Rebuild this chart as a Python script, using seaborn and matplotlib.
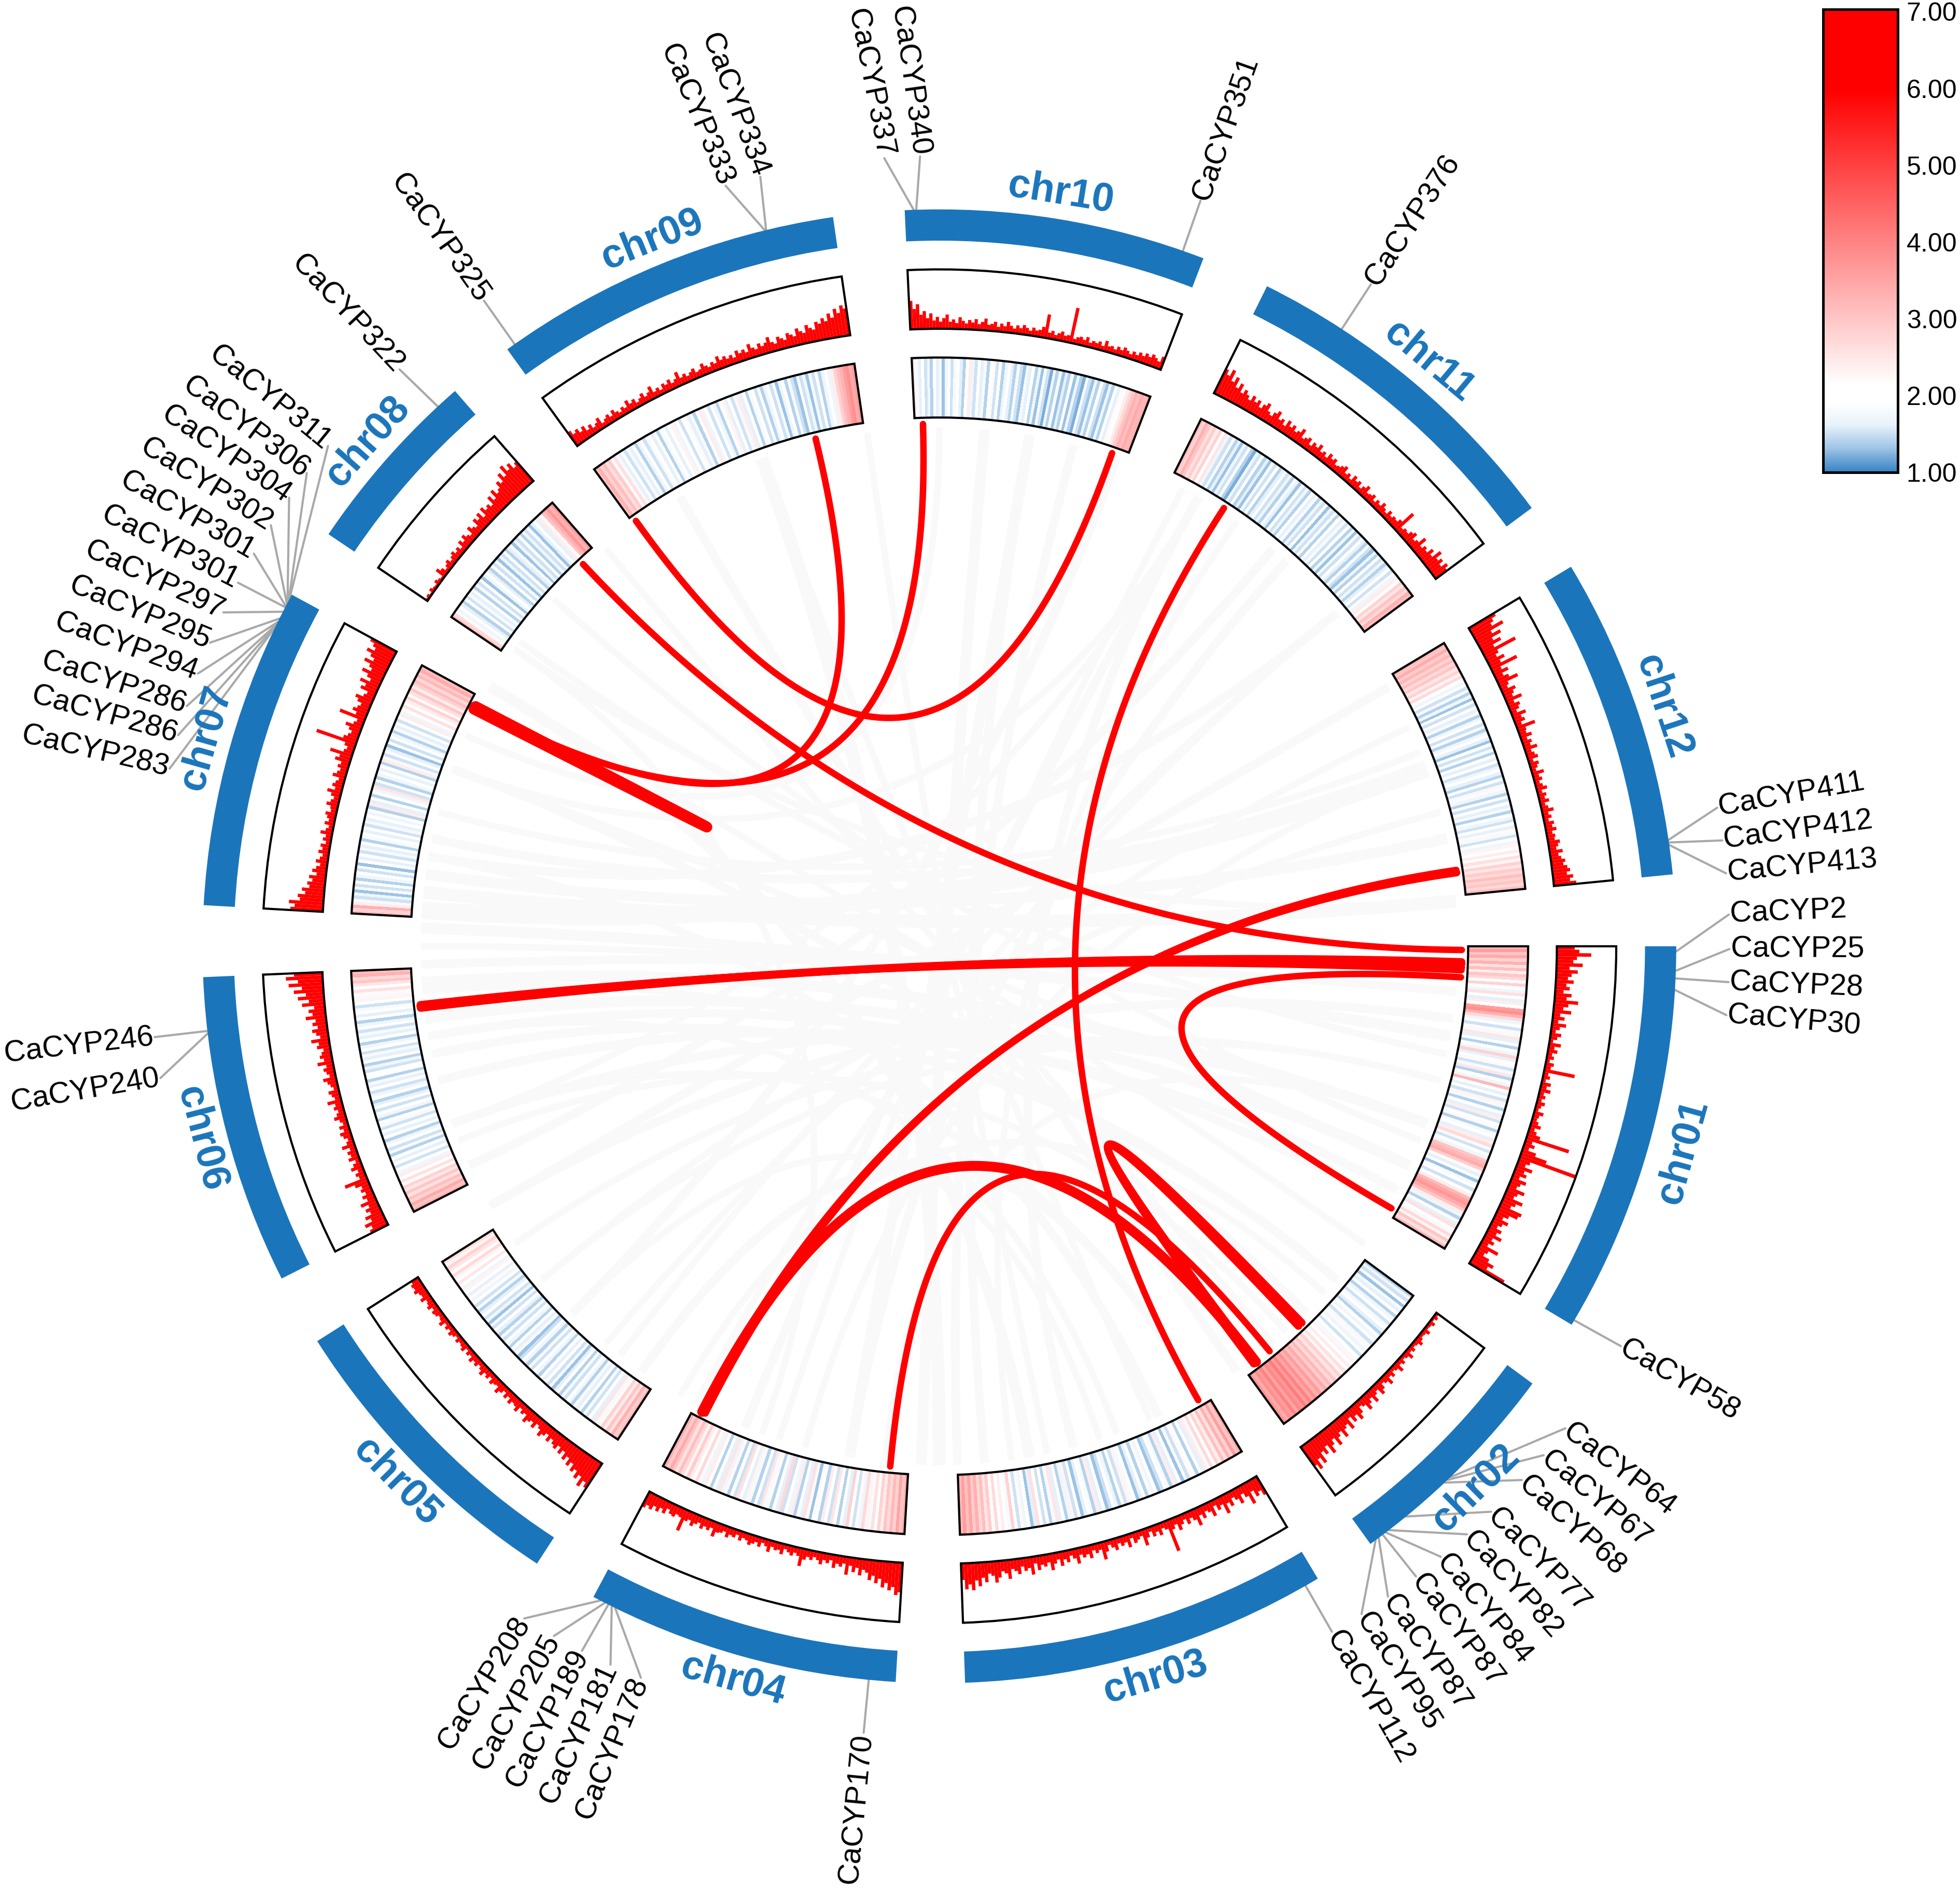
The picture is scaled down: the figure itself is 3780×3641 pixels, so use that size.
import numpy as np
import matplotlib
matplotlib.use("Agg")
import matplotlib.pyplot as plt
from matplotlib.colors import ListedColormap, Normalize
from matplotlib.cm import ScalarMappable
import seaborn as sns

sns.set_theme(style="white")
plt.rcParams['font.family'] = ['Liberation Sans', 'DejaVu Sans']

chroms = ['chr01','chr02','chr03','chr04','chr05','chr06','chr07','chr08','chr09','chr10','chr11','chr12']
starts = [0.0,36.4,59.1,93.4,123.1,153.2,183.2,214.0,234.1,267.3,296.4,329.0]
ends   = [30.9,54.2,88.0,118.0,147.6,177.6,208.5,228.9,261.7,291.0,323.5,354.4]
chrom_label_r = [617,610,610,610,610,610,610,610,610,610,610,610]

# peak height in each bin, percent of the track height
hist_chr01 = [30,38,58,34,28,44,22,36,26,20,30,18,24,14,28,20,40,24,16,30,12,20,10,24,14,8,18,12,6,20,10,16,8,12,6,14,10,52,8,12,6,16,10,18,8,12,7,14,9,6,16,10,8,12,18,9,14,22,75,12,18,10,24,45,100,20,14,28,16,22,12,26,18,14,30,20,16,34,24,18,40,36,22,14,26,18,12,22,16,28,14,20,12,34,18,14,26,38,30,66]
hist_chr02 = [5,8,4,10,6,5,12,7,6,9,14,8,6,11,7,16,9,6,12,8,18,10,7,14,9,20,12,8,16,22,10,14,24,12,18,26,14,10,20,28,16,24,12,30,18,22,34,20,26,38,22,30,42,24,36,28,46,34,50,40]
hist_chr03 = [34,24,30,18,38,22,14,28,18,12,24,16,32,14,20,10,26,16,12,22,14,30,18,12,20,10,16,24,12,18,55,14,10,20,12,18,8,16,28,10,14,18,8,22,12,16,10,20,14,8,18,30,12,16,10,22,14,18,12,26,16,10,20,14,24,12,18,28,14,20,16,24,12,30,18,22,14,26,20,16,32,22,18,28,36,24,20,34,26,40,30,46,36,44,28]
hist_chr04 = [50,55,42,48,36,44,30,38,26,34,22,18,28,16,24,14,30,12,18,14,22,10,16,12,20,14,10,16,12,18,30,14,10,16,12,8,18,12,14,10,20,12,8,16,10,14,18,12,10,16,8,14,12,18,10,14,16,25,12,18,14,20,12,16,22,14,18,38,16,14,20,18,12,22,16,24,18,26,22,28]
hist_chr05 = [50,42,54,38,46,34,40,28,36,24,32,20,28,18,26,22,16,24,14,20,26,16,12,22,14,18,24,12,16,10,20,14,12,18,10,16,8,14,20,10,12,16,8,14,10,18,12,8,14,10,16,8,12,6,14,10,8,12,6,10,14,8,12,7,16,10,8,12,14,9,16,12,10,18,12,14,20,16,18,14]
hist_chr06 = [32,26,36,22,30,18,24,16,28,14,20,12,18,14,24,40,12,16,10,20,14,8,18,12,16,10,22,12,8,14,18,10,16,8,12,20,14,10,16,12,24,10,14,18,8,12,16,22,10,14,18,12,26,14,20,16,12,22,18,30,14,20,26,16,24,18,34,22,28,18,38,26,44,30,50,36,58,42,62,48]
hist_chr07 = [55,48,58,40,44,32,38,26,30,22,28,16,24,18,12,20,14,10,18,12,16,8,14,10,20,12,8,16,10,14,18,10,12,20,14,10,16,24,12,18,14,10,22,16,12,18,14,26,20,38,16,12,18,70,24,18,14,20,28,16,12,45,18,26,20,16,24,30,18,14,28,22,34,18,26,38,24,30,42,28,36,46,34,40,48]
hist_chr08 = [4,6,3,8,5,4,9,6,4,18,12,6,10,14,8,12,16,10,14,8,18,12,20,14,10,22,16,12,24,18,26,14,28,20,24,18,32,22,36,26,30,40,34,48,38,55,42,50,38,44]
hist_chr09 = [28,20,24,16,22,12,18,10,14,20,8,12,16,10,18,12,8,14,10,20,12,16,8,12,18,10,14,22,10,14,8,16,12,18,10,14,24,12,16,10,14,18,10,12,20,14,10,16,12,22,14,18,12,16,10,20,14,18,12,24,16,12,20,14,18,26,16,12,22,18,14,24,20,16,28,22,18,30,24,20,32,28,36,30,42,34,48,40,52,46]
hist_chr10 = [48,34,42,24,30,18,26,14,20,12,18,24,12,16,10,20,14,10,16,12,18,10,14,20,10,12,16,8,14,10,18,12,8,14,10,16,12,8,14,10,12,18,40,10,14,8,12,16,10,12,60,8,12,14,10,16,8,12,10,14,8,18,10,12,8,14,10,16,12,8,14,10,16,12,18,14,20,16,12,22]
hist_chr11 = [46,38,50,32,42,26,36,22,30,24,18,28,20,26,16,24,30,18,14,22,28,16,20,12,24,16,22,14,18,26,12,16,20,10,18,14,22,12,16,10,20,14,18,10,12,16,20,10,14,8,18,12,16,8,14,20,10,12,16,8,14,10,18,12,8,16,10,14,12,18,40,10,14,12,18,22,12,16,28,14,20,16,26,18,34,22,28,20,30,24]
hist_chr12 = [50,42,36,55,30,44,26,38,22,60,24,18,30,20,48,16,26,14,22,36,16,12,24,18,14,28,12,20,16,10,24,14,18,10,32,14,12,20,10,16,12,22,10,14,18,8,16,12,8,20,10,14,8,12,18,8,14,10,16,8,12,20,10,14,8,16,12,18,10,14,12,20,16,12,22,14,18,24,20,26,30,24,34,28,38]

# heat-track value in each bin, in tenths (17 means 1.7)
heat_chr01 = [32,36,30,34,28,33,26,31,24,30,27,18,28,21,17,26,20,16,24,19,36,38,33,27,17,21,15,22,18,25,16,20,14,21,17,28,16,19,22,15,18,25,14,20,17,32,19,16,21,15,23,18,14,20,16,24,15,19,22,14,18,21,16,24,27,18,15,20,17,30,32,34,29,22,16,19,13,18,21,15,19,24,32,35,37,34,30,24,17,14,19,16,26,21,18,27,23,30,26,32]
heat_chr02 = [14,17,15,19,13,18,16,20,14,17,19,15,18,21,16,14,19,17,20,15,18,22,17,19,15,21,18,23,20,24,21,26,23,28,25,30,27,32,29,34,31,36,33,38,35,40,36,41,37,39,35,40,36,38,34,37]
heat_chr03 = [34,30,36,28,33,26,31,24,28,21,27,18,24,16,21,14,19,22,15,18,13,20,16,24,14,18,21,15,13,19,17,22,14,19,16,13,20,18,23,15,19,14,17,21,15,13,20,16,24,14,18,21,16,13,19,15,23,17,14,20,16,25,18,14,21,15,19,26,16,13,20,17,22,15,19,28,18,21,24,19,27,22,29,25,31,27,33,29,35,31,36,32]
heat_chr04 = [33,30,35,28,32,27,30,24,28,21,26,18,23,27,17,22,15,20,28,16,21,14,19,25,15,20,24,14,19,22,13,18,26,16,20,14,24,17,21,15,27,16,19,14,22,18,25,15,20,14,18,23,16,20,26,15,19,14,22,17,25,16,21,14,19,24,17,22,27,20,24,29,23,27,31,26,30,34,29,33]
heat_chr05 = [32,29,33,26,30,24,28,22,18,25,16,20,15,18,14,20,16,18,14,17,19,15,18,14,19,16,13,18,15,20,16,19,14,17,21,15,18,14,17,19,15,13,18,16,20,14,17,19,15,18,14,16,20,15,18,13,17,15,19,16,14,18,15,20,17,22,16,19,23,17,21,25,19,23,27,21,25,28,23,26]
heat_chr06 = [33,30,34,28,31,26,30,25,28,22,26,19,24,17,21,15,19,16,21,14,18,15,20,17,14,19,16,21,15,18,20,14,17,19,15,21,16,14,19,17,15,20,16,18,14,19,21,15,17,14,20,16,18,15,21,17,14,19,16,18,15,20,17,14,19,16,21,18,15,20,23,18,22,26,21,25,30,27,33,31]
heat_chr07 = [31,28,33,24,18,15,17,13,18,15,19,14,17,19,15,18,13,19,16,20,15,18,16,19,14,18,20,16,19,15,18,16,20,17,19,14,24,16,19,14,21,17,25,15,19,14,17,21,16,19,14,24,18,15,20,16,13,19,15,21,17,14,18,16,20,15,19,24,17,21,26,19,24,28,22,26,30,24,28,31,27,32,29,34,31]
heat_chr08 = [30,27,22,17,20,16,14,19,15,18,16,20,14,18,15,19,13,17,20,16,14,19,15,18,13,17,15,19,14,16,18,13,17,15,19,14,17,15,18,13,16,19,16,24,22,30,33,37,33,36]
heat_chr09 = [30,33,28,31,26,29,22,26,18,16,20,15,18,16,20,14,17,20,15,18,21,16,19,14,18,21,16,19,23,17,20,15,19,22,16,18,14,20,24,17,19,15,21,17,14,19,23,16,20,15,18,24,16,19,14,18,21,15,19,14,17,20,15,18,13,17,20,14,18,15,13,19,15,17,13,18,15,19,14,17,21,17,24,28,31,33,36,38,34,36]
heat_chr10 = [24,18,16,19,15,17,14,19,16,18,13,17,20,15,18,21,16,14,19,24,17,15,20,16,18,14,19,22,15,19,14,17,21,16,14,18,15,13,18,16,20,14,17,13,18,15,12,17,14,18,13,16,14,19,13,17,14,12,18,15,13,17,14,19,15,13,17,14,20,16,22,19,24,27,30,33,31,34,32,33]
heat_chr11 = [31,28,33,30,26,29,24,28,21,25,17,15,18,14,16,13,17,15,18,14,12,17,15,19,14,16,13,18,15,19,14,16,20,15,17,14,18,16,13,19,15,17,14,20,16,18,14,17,15,19,13,17,15,18,14,21,16,18,15,19,14,17,13,18,15,20,16,14,18,15,13,17,14,19,15,17,14,16,19,15,22,17,24,21,28,25,30,27,33,31]
heat_chr12 = [32,30,34,29,32,28,31,27,30,25,28,23,27,21,17,20,15,18,14,17,13,19,15,20,16,18,14,17,19,15,18,14,17,20,16,13,19,15,18,14,21,16,19,15,17,21,16,14,19,15,18,22,17,14,19,15,20,16,18,14,21,17,15,19,16,22,18,15,20,17,23,19,24,21,26,23,28,25,29,27,31,28,30,27,31]

hist_values = [hist_chr01,hist_chr02,hist_chr03,hist_chr04,hist_chr05,hist_chr06,hist_chr07,hist_chr08,hist_chr09,hist_chr10,hist_chr11,hist_chr12]
heat_values = [heat_chr01,heat_chr02,heat_chr03,heat_chr04,heat_chr05,heat_chr06,heat_chr07,heat_chr08,heat_chr09,heat_chr10,heat_chr11,heat_chr12]

gene_names = ['CaCYP2','CaCYP25','CaCYP28','CaCYP30','CaCYP58',
 'CaCYP64','CaCYP67','CaCYP68','CaCYP77','CaCYP82','CaCYP84','CaCYP87','CaCYP87','CaCYP95','CaCYP112',
 'CaCYP170','CaCYP178','CaCYP181','CaCYP189','CaCYP205','CaCYP208','CaCYP240','CaCYP246',
 'CaCYP283','CaCYP286','CaCYP286','CaCYP294','CaCYP295','CaCYP297','CaCYP301','CaCYP301','CaCYP302','CaCYP304','CaCYP306','CaCYP311',
 'CaCYP322','CaCYP325','CaCYP333','CaCYP334','CaCYP337','CaCYP340','CaCYP351','CaCYP376','CaCYP411','CaCYP412','CaCYP413']
gene_theta = [0.4,1.9,2.5,3.4,30.5,
 46.1,46.4,46.7,50.7,52.4,52.7,53.0,53.4,53.7,60.2,
 95.5,116.1,116.4,116.7,117.0,117.4,173.2,173.4,
 205.6,205.8,205.9,206.1,206.4,207.0,207.4,207.5,207.7,207.8,208.0,208.1,
 227.1,234.8,256.3,256.4,268.0,268.2,289.3,303.1,351.7,351.9,352.1]
label_theta = [357.7,0.2,2.6,5.0,30.4,
 37.6,40.1,42.5,45.7,48.1,50.6,52.9,55.4,57.7,60.2,
 95.5,112.2,114.6,116.9,119.2,121.7,170.4,173.4,
 193.0,195.5,197.7,200.2,202.6,205.0,207.4,209.8,212.2,214.6,216.8,219.3,
 226.9,234.8,254.3,256.9,266.0,268.6,289.3,303.1,349.9,352.3,354.7]
label_tilt = {'CaCYP333': 7, 'CaCYP334': 7, 'CaCYP337': 7, 'CaCYP340': 6.5}

red_a = [234.5,256.3,268.2,207.0,227.0,303.0,351.9,351.6,1.9,2.6,3.4,52.7,50.8,46.6,46.1,207.2,1.7,2.3]
red_b = [289.3,207.2,207.0,207.3,0.4,60.3,117.0,116.6,173.4,173.6,30.1,117.0,95.4,52.7,53.0,207.5,173.2,173.5]
red_w = [3.0,3.0,3.0,5.0,3.0,3.0,3.4,3.0,3.6,3.2,3.0,4.6,3.0,3.6,3.6,3.6,3.4,3.4]

grey_a = [184,186,182,178,176,172,168,160,155,150,145,140,135,128,125,120,112,105,100,96,90,85,80,75,70,65,60,50,45,40,35,30,25,20,15,10,8,355,348,340,335,320,312,305,298,285,275,262,250,240,222,216,190,195,200,204,165,158,110,72]
grey_b = [340,355,10,5,20,25,40,300,310,330,15,345,290,320,60,42,300,340,280,20,250,280,210,300,170,190,160,230,200,175,210,170,200,160,140,180,150,215,188,192,130,118,100,82,108,88,92,78,66,55,22,12,320,338,300,270,28,48,215,135]
grey_w = [8,6,5,4,5,5,4,3,4,4,3,3,4,3,4,3,4,3,5,3,6,4,5,4,3,4,3,3,4,3,3,4,3,4,3,3,4,3,5,4,3,3,4,3,3,4,5,3,3,4,3,3,4,3,3,3,4,3,3,3]

CX, CY = 751.5, 757.0        # centre of the circle in a 1568-wide view
SCALE = 3780 / 1568
R_INNER_LINK = 418
R_H0, R_H1 = 423, 471
R_B0, R_B1 = 494, 541.5
R_C0, R_C1 = 564.5, 589.5
BLUE = '#1B75BB'

fig = plt.figure(figsize=(3780/300, 3641/300), dpi=300, facecolor='white')
rmax = 600
side = 2 * rmax * SCALE
ax = fig.add_axes([(CX*SCALE - rmax*SCALE)/3780, (3641 - CY*SCALE - rmax*SCALE)/3641, side/3780, side/3641],
                  projection='polar')
ax.set_theta_direction(-1)
ax.set_theta_offset(0)
ax.set_rlim(0, rmax)
ax.set_axis_off()

vmin, vmax = 1.0, 7.03
blue_part = sns.blend_palette(['#3A85C6', '#9CC3E4', '#E6F1FA', '#FFFFFF'], 46)
white_part = ['#FFFFFF'] * 10
red_part = sns.blend_palette(['#FFFFFF', '#FF0000'], 194)
top_part = ['#FF0000'] * 52
cmap = ListedColormap(list(blue_part) + white_part + list(red_part) + top_part)
norm = Normalize(vmin, vmax)


def link_path(t1, t2, r=R_INNER_LINK):
    """Quadratic curve between two track positions, pulled through the centre."""
    a, b = np.deg2rad(t1), np.deg2rad(t2)
    u = np.linspace(0, 1, 160)[:, None]
    p0 = np.array([r*np.cos(a), r*np.sin(a)])
    p2 = np.array([r*np.cos(b), r*np.sin(b)])
    xy = (1-u)**2 * p0 + u**2 * p2
    return np.arctan2(xy[:, 1], xy[:, 0]), np.hypot(xy[:, 0], xy[:, 1])


for a, b, w in zip(grey_a, grey_b, grey_w):
    th, rr = link_path(a, b, 415)
    ax.plot(th, rr, color='#F9F9F9', lw=w, solid_capstyle='butt', zorder=1)
for a, b, w in zip(red_a, red_b, red_w):
    th, rr = link_path(a, b)
    ax.plot(th, rr, color='#FF0000', lw=w, solid_capstyle='round', zorder=3)

for i, name in enumerate(chroms):
    s, e = starts[i], ends[i]
    mid = np.deg2rad((s+e)/2)
    width = np.deg2rad(e-s)
    ax.bar(mid, R_C1-R_C0, width=width, bottom=R_C0, color=BLUE, linewidth=0, zorder=4)

    vals = np.array(hist_values[i], dtype=float)
    edges = np.linspace(s, e, len(vals)+1)
    centers = np.deg2rad((edges[:-1]+edges[1:])/2)
    ax.bar(centers, vals/100*(R_B1-R_B0), width=np.deg2rad(edges[1]-edges[0]), bottom=R_B0,
           color='#FF0000', linewidth=0, zorder=4)
    ax.bar(mid, R_B1-R_B0, width=width, bottom=R_B0, facecolor='none', edgecolor='black', linewidth=1.0, zorder=5)

    hv = np.array(heat_values[i], dtype=float) / 10
    edges = np.deg2rad(np.linspace(s, e, len(hv)+1))
    T, R = np.meshgrid(edges, [R_H0, R_H1])
    ax.pcolormesh(T, R, hv[None, :], cmap=cmap, norm=norm, shading='flat', zorder=2)
    ax.bar(mid, R_H1-R_H0, width=width, bottom=R_H0, facecolor='none', edgecolor='black', linewidth=1.0, zorder=5)

    md = (s+e)/2
    rot = ((90-md+90) % 180) - 90
    ax.text(mid, chrom_label_r[i], name, color=BLUE, fontsize=18.5, fontweight='bold', rotation=rot,
            rotation_mode='anchor', ha='center', va='center', zorder=6)

for name, tg, tl in zip(gene_names, gene_theta, label_theta):
    ax.plot(np.deg2rad([tg, tl]), [R_C1, 632], color='#A9A9A9', lw=1.0, clip_on=False, zorder=3)
    t = tl % 360
    if 90 < t < 270:
        rot, ha = 180-t, 'right'
    else:
        rot, ha = -t, 'left'
    rot += label_tilt.get(name, 0)
    ax.text(np.deg2rad(tl), 633, name, fontsize=13.9, color='black', rotation=rot, rotation_mode='anchor',
            ha=ha, va='center', zorder=6)

cax = fig.add_axes([3516/3780, 1-911/3641, 144/3780, 893/3641])
cb = fig.colorbar(ScalarMappable(norm=norm, cmap=cmap), cax=cax)
cb.set_ticks([1, 2, 3, 4, 5, 6, 7])
cb.ax.set_yticklabels(['%.2f' % v for v in [1, 2, 3, 4, 5, 6, 7]], fontsize=12, color='black')
cb.ax.tick_params(axis='y', direction='in', length=3, width=1.0, color='white', pad=4, right=True)
cb.outline.set_edgecolor('black')
cb.outline.set_linewidth(1.2)

fig.savefig('out.png', dpi=300, facecolor='white')
